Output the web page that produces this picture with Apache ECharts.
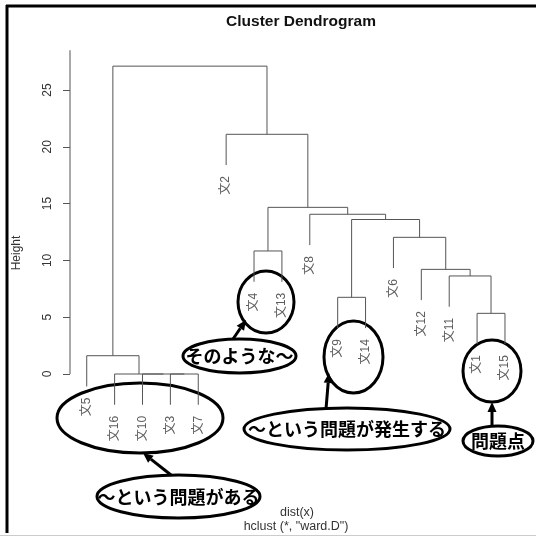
<!DOCTYPE html>
<html>
<head>
<meta charset="utf-8">
<script src="https://cdn.jsdelivr.net/npm/echarts@6/dist/echarts.min.js"></script>
<style>
  html, body { margin: 0; padding: 0; background: #fff; }
  #chart { width: 536px; height: 536px; }
</style>
</head>
<body>
<div id="chart"></div>
<script>
// leaves in plotted order
const leafLabels = ['文5', '文16', '文10', '文3', '文7', '文2', '文4', '文13', '文8', '文9', '文14', '文6', '文12', '文11', '文1', '文15'];
// hclust style merge table: negative = leaf position, positive = earlier merge
const mergeLeft = [-4, -3, -2, -1, -15, -10, -14, -13, -7, -12, 6, -9, 9, -6, 4];
const mergeRight = [-5, 1, 2, 3, -16, -11, 5, 7, -8, 8, 10, 11, 12, 13, 14];
const mergeHeight = [0, 0, 0, 1.61, 5.34, 6.75, 8.63, 9.21, 10.83, 12.03, 13.6, 14.06, 14.67, 21.1, 27.1];
const yTicks = [0, 5, 10, 15, 20, 25];

const FONT = '"Liberation Sans", "Noto Sans CJK JP", sans-serif';
const hang = 0.1 * Math.max(...mergeHeight);

// walk the merges -> polylines + leaf label points
const mergeX = [];
const branches = [];
const leafPoints = [];
function child(ref, h) {
  if (ref < 0) {
    const pos = -ref;
    leafPoints.push({ name: leafLabels[pos - 1], value: [pos, h - hang] });
    return [pos, h - hang];
  }
  return [mergeX[ref - 1], mergeHeight[ref - 1]];
}
mergeHeight.forEach((h, i) => {
  const l = child(mergeLeft[i], h);
  const r = child(mergeRight[i], h);
  mergeX[i] = (l[0] + r[0]) / 2;
  branches.push({ coords: [l, [l[0], h], [r[0], h], r] });
});

function arrow(x1, y1, x2, y2) {
  const a = Math.atan2(y2 - y1, x2 - x1);
  const len = 10, w = 4.5;
  const bx = x2 - len * Math.cos(a), by = y2 - len * Math.sin(a);
  return [
    { type: 'line', shape: { x1: x1, y1: y1, x2: bx, y2: by }, style: { stroke: '#000', lineWidth: 3 } },
    { type: 'polygon', shape: { points: [[x2, y2], [bx - w * Math.sin(a), by + w * Math.cos(a)], [bx + w * Math.sin(a), by - w * Math.cos(a)]] }, style: { fill: '#000' } }
  ];
}
function ring(cx, cy, rx, ry, fill) {
  return { type: 'ellipse', shape: { cx: cx, cy: cy, rx: rx, ry: ry }, style: { fill: fill || 'none', stroke: '#000', lineWidth: 3 } };
}
function note(x, y, text) {
  return { type: 'text', style: { text: text, x: x, y: y, align: 'center', verticalAlign: 'middle', fill: '#000', font: 'bold 18px "Noto Sans CJK JP", sans-serif' } };
}

const chart = echarts.init(document.getElementById('chart'));
chart.setOption({
  animation: false,
  title: {
    text: 'Cluster Dendrogram', left: 296, top: 9, textAlign: 'center',
    textStyle: { fontSize: 15.5, fontWeight: 'bold', color: '#111', fontFamily: FONT }
  },
  grid: { left: 70, right: 14.3, top: 33.2, bottom: 105.2 },
  xAxis: { type: 'value', min: 0.4, max: 16.6, show: false },
  yAxis: {
    type: 'value', min: -5, max: 30, interval: 5,
    splitLine: { show: false },
    axisLine: { show: false },
    axisTick: { show: true, length: 7, customValues: yTicks, lineStyle: { color: '#555' } },
    axisLabel: { rotate: 90, margin: 16, customValues: yTicks, fontSize: 12, color: '#333', fontFamily: FONT }
  },
  series: [
    {
      type: 'lines', coordinateSystem: 'cartesian2d', polyline: true, silent: true,
      lineStyle: { color: '#555', width: 1, opacity: 1 },
      data: branches.concat([{ coords: [[0.4, 0], [0.4, 28.5]] }])
    },
    {
      type: 'scatter', symbolSize: 0, silent: true,
      data: leafPoints,
      label: {
        show: true, formatter: '{b}', position: 'bottom', distance: 11, rotate: 90,
        align: 'right', verticalAlign: 'middle', fontSize: 12, color: '#333', fontFamily: FONT
      }
    }
  ],
  graphic: [
    { type: 'line', shape: { x1: 6, y1: 6, x2: 536, y2: 6 }, style: { stroke: '#000', lineWidth: 3 } },
    { type: 'line', shape: { x1: 7, y1: 5, x2: 7, y2: 533 }, style: { stroke: '#000', lineWidth: 3 } },
    { type: 'line', shape: { x1: 0, y1: 535.5, x2: 536, y2: 535.5 }, style: { stroke: '#ccc', lineWidth: 1 } },
    { type: 'text', rotation: Math.PI / 2, x: 16.5, y: 253, style: { text: 'Height', align: 'center', verticalAlign: 'middle', fill: '#333', font: '12px ' + FONT } },
    { type: 'text', style: { text: 'dist(x)', x: 297, y: 513, align: 'center', verticalAlign: 'middle', fill: '#333', font: '12.5px ' + FONT } },
    { type: 'text', style: { text: 'hclust (*, "ward.D")', x: 296, y: 527, align: 'center', verticalAlign: 'middle', fill: '#333', font: '12.5px ' + FONT } },
    ring(140, 418, 83, 35),
    ring(266, 302, 28, 31),
    ring(353.5, 357, 29.5, 36),
    ring(492, 371, 29, 31),
    ring(178.5, 496.5, 81.5, 21.5, '#fff'),
    ring(239.5, 356, 56.5, 17, '#fff'),
    ring(347, 429, 103, 21, '#fff'),
    ring(498, 441, 35, 15, '#fff'),
    note(178.5, 497, '〜という問題がある'),
    note(239.5, 356, 'そのような〜'),
    note(347, 429, '〜という問題が発生する'),
    note(498, 441, '問題点')
  ].concat(
    arrow(171, 475, 143, 453),
    arrow(233, 339, 246, 320),
    arrow(326, 409, 329, 373),
    arrow(492, 427, 492, 402)
  )
});
</script>
</body>
</html>
